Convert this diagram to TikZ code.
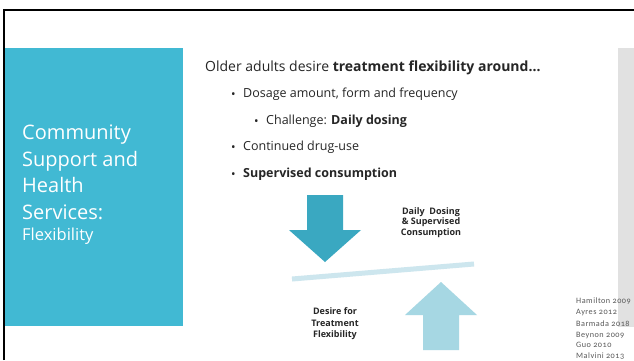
\documentclass[tikz,border=0pt]{standalone}
\usepackage{fontspec}
\setmainfont{Open Sans}
\newfontfamily\reffont[Numbers=OldStyle,LetterSpace=6]{Carlito}
\definecolor{panelteal}{HTML}{41B9D3}
\definecolor{downteal}{HTML}{3AA8C1}
\definecolor{uplight}{HTML}{A6D7E3}
\definecolor{beamlight}{HTML}{CDE6EE}
\definecolor{sidegray}{HTML}{E1E1E1}
\definecolor{bodytext}{HTML}{262626}
\definecolor{reftext}{HTML}{595959}
\tikzset{
  item/.style={anchor=base west, text=bodytext, font=\fontsize{12.5}{15}\selectfont, inner sep=0pt},
  balance/.style={align=center, text=bodytext, font=\fontsize{9}{11.5}\selectfont\bfseries, inner sep=0pt},
  refs/.style={anchor=north west, align=left, text=reftext, inner sep=0pt,
    font=\reffont\fontsize{8.2}{10.5}\selectfont}
}
\newcommand{\blt}{\makebox[12pt][l]{\raisebox{-1.5pt}{\fontsize{12}{12}\selectfont\textbullet}}}

\begin{document}
\begin{tikzpicture}[x=1pt,y=-1pt]
  \useasboundingbox (0,0) rectangle (634,360);
  \fill[white] (0,0) rectangle (634,360);
  \draw[line width=2pt] (4,360) -- (4,10) -- (634,10);
  \fill[panelteal] (5,48) rectangle (183,326);
  \fill[sidegray] (618,48) rectangle (634,327);

  \node[anchor=north west, align=left, text=white, inner sep=0pt,
    font=\fontsize{20}{26.5}\selectfont] (title) at (22,125)
    {Community\\Support and\\Health\\Services:\\[-5pt]{\fontsize{16.5}{20}\selectfont Flexibility}};

  \node[anchor=base west, text=bodytext, inner sep=0pt, font=\fontsize{14}{17}\selectfont] (lead) at (205,71)
    {Older adults desire \textbf{treatment flexibility around…}};
  \node[item] (dosage) at (231,97) {\blt Dosage amount, form and frequency};
  \node[item] (challenge) at (254,124) {\blt Challenge: \textbf{Daily dosing}};
  \node[item] (druguse) at (231,150) {\blt Continued drug-use};
  \node[item] (supervised) at (231,177) {\blt \textbf{Supervised consumption}};

  \coordinate (downtip) at (325,262);
  \coordinate (uptip) at (441,282);
  \fill[downteal] (307,195) -- (343,195) -- (343,230) -- (361,230) -- (downtip) -- (289,230) -- (307,230) -- cycle;
  \fill[uplight] (423,350) -- (459,350) -- (459,315) -- (477,315) -- (uptip) -- (405,315) -- (423,315) -- cycle;
  \coordinate (beamleft) at (292,279);
  \coordinate (beamright) at (474,264);
  \draw[beamlight, line width=5pt] (beamleft) -- (beamright);

  \node[balance] (dailylabel) at (431,223) {Daily\ \ Dosing\\[-2pt]\& Supervised\\Consumption};
  \node[balance] (desirelabel) at (335,324) {Desire for\\Treatment\\Flexibility};

  \node[refs] (hamilton) at (576,298) {Hamilton 2009\\Ayres 2012};
  \node[refs] (barmada) at (576,321) {Barmada 2018\\Beynon 2009\\Guo 2010\\Malvini 2013};
\end{tikzpicture}
\end{document}
